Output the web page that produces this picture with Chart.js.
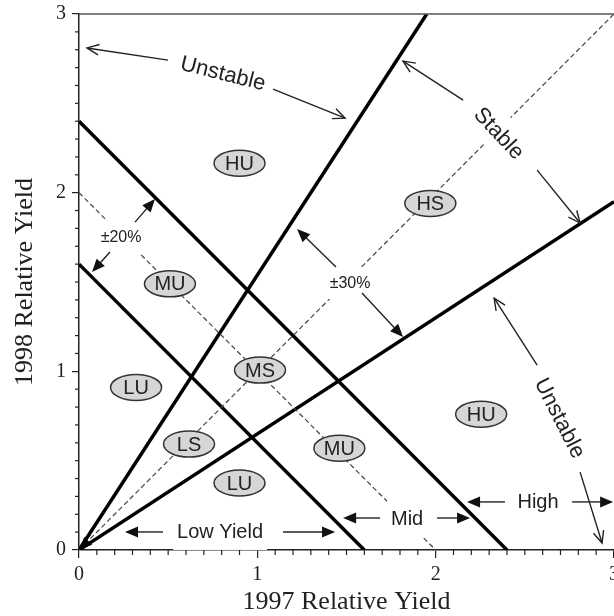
<!DOCTYPE html>
<html>
<head>
<meta charset="utf-8">
<script src="https://cdn.jsdelivr.net/npm/chart.js@4"></script>
<style>
  html, body { margin: 0; padding: 0; background: #fff; }
  #wrap { width: 614px; height: 616px; }
</style>
</head>
<body>
<div id="wrap"><canvas id="yieldChart"></canvas></div>
<script>
// boundary lines, endpoints in relative-yield units
const upperStable = [{ x: 0, y: 0 }, { x: 1.95, y: 3 }];
const lowerStable = [{ x: 0, y: 0 }, { x: 3, y: 1.95 }];
const oneToOne = [{ x: 0, y: 0 }, { x: 3, y: 3 }];
const highBound = [{ x: 0, y: 2.4 }, { x: 2.4, y: 0 }];
const lowBound = [{ x: 0, y: 1.6 }, { x: 1.6, y: 0 }];
const midLine = [{ x: 0, y: 2 }, { x: 2, y: 0 }];

// zone labels
const zoneNames = ["HU", "HS", "MU", "LU", "MS", "LS", "LU", "MU", "HU"];
const zoneX = [0.9, 1.97, 0.51, 0.32, 1.015, 0.617, 0.9, 1.46, 2.255];
const zoneY = [2.165, 1.94, 1.49, 0.91, 1.007, 0.593, 0.375, 0.57, 0.76];

// text annotations: text, x, y, angle, size
const noteText = ["Unstable", "Stable", "Unstable", "±20%", "±30%", "Low Yield", "Mid", "High"];
const noteX = [0.808, 2.356, 2.698, 0.236, 1.52, 0.791, 1.84, 2.574];
const noteY = [2.669, 2.333, 0.739, 1.752, 1.494, 0.101, 0.179, 0.269];
const noteAngle = [14, 47, 63, 0, 0, 0, 0, 0];
const noteSize = [22, 22, 22, 16, 16, 20, 20, 20];

// arrows: from -> to, "open" chevron or "solid" head
const arrowFrom = [
  [0.499, 2.742], [1.088, 2.58], [2.154, 2.518], [2.569, 2.126], [2.569, 1.035], [2.81, 0.436],
  [0.314, 1.835], [0.174, 1.668], [1.441, 1.584], [1.587, 1.438],
  [0.471, 0.101], [1.144, 0.101], [1.688, 0.179], [2.008, 0.179], [2.389, 0.269], [2.765, 0.269]
];
const arrowTo = [
  [0.045, 2.81], [1.492, 2.417], [1.817, 2.736], [2.81, 1.83], [2.328, 1.41], [2.933, 0.039],
  [0.426, 1.964], [0.073, 1.556], [1.223, 1.796], [1.817, 1.192],
  [0.258, 0.101], [1.436, 0.101], [1.481, 0.179], [2.193, 0.179], [2.176, 0.269], [2.995, 0.269]
];
const arrowHead = [
  "open", "open", "open", "open", "open", "open",
  "solid", "solid", "solid", "solid",
  "solid", "solid", "solid", "solid", "solid", "solid"
];

const serif = "'Liberation Serif', 'DejaVu Serif', serif";
const sans = "'Liberation Sans', Arial, sans-serif";

function headAt(ctx, x1, y1, x2, y2, type) {
  const a = Math.atan2(y2 - y1, x2 - x1);
  if (type === "open") {
    const len = 13, spread = 0.42;
    ctx.beginPath();
    ctx.moveTo(x2 - len * Math.cos(a - spread), y2 - len * Math.sin(a - spread));
    ctx.lineTo(x2, y2);
    ctx.lineTo(x2 - len * Math.cos(a + spread), y2 - len * Math.sin(a + spread));
    ctx.stroke();
  } else {
    const len = 13, half = 5.5;
    const bx = x2 - len * Math.cos(a), by = y2 - len * Math.sin(a);
    ctx.beginPath();
    ctx.moveTo(x2, y2);
    ctx.lineTo(bx + half * Math.sin(a), by - half * Math.cos(a));
    ctx.lineTo(bx - half * Math.sin(a), by + half * Math.cos(a));
    ctx.closePath();
    ctx.fill();
  }
}

const annotations = {
  id: "annotations",
  afterDraw(chart) {
    const ctx = chart.ctx;
    const xs = chart.scales.x, ys = chart.scales.y;
    const area = chart.chartArea;

    // top frame line
    ctx.save();
    ctx.strokeStyle = "#555";
    ctx.lineWidth = 1.5;
    ctx.beginPath();
    ctx.moveTo(area.left, area.top);
    ctx.lineTo(area.right, area.top);
    ctx.stroke();

    // minor ticks
    ctx.strokeStyle = "#222";
    ctx.lineWidth = 1.2;
    for (let i = 1; i < 30; i++) {
      if (i % 10 === 0) continue;
      const px = xs.getPixelForValue(i / 10);
      ctx.beginPath();
      ctx.moveTo(px, area.bottom);
      ctx.lineTo(px, area.bottom + 5);
      ctx.stroke();
      const py = ys.getPixelForValue(i / 10);
      ctx.beginPath();
      ctx.moveTo(area.left, py);
      ctx.lineTo(area.left - 4, py);
      ctx.stroke();
    }

    // small arrowhead at origin
    ctx.fillStyle = "#000";
    const ox = xs.getPixelForValue(0), oy = ys.getPixelForValue(0);
    headAt(ctx, ox + 20, oy - 20, ox, oy, "solid");

    // text notes with white backing
    ctx.textAlign = "center";
    ctx.textBaseline = "middle";
    noteText.forEach((t, i) => {
      ctx.save();
      ctx.translate(xs.getPixelForValue(noteX[i]), ys.getPixelForValue(noteY[i]));
      ctx.rotate(noteAngle[i] * Math.PI / 180);
      ctx.font = noteSize[i] + "px " + sans;
      const w = ctx.measureText(t).width;
      ctx.fillStyle = "#fff";
      ctx.fillRect(-w / 2 - 4, -noteSize[i] / 2 - 8, w + 8, noteSize[i] + 16);
      ctx.fillStyle = "#222";
      ctx.fillText(t, 0, 1);
      ctx.restore();
    });

    // arrows
    ctx.strokeStyle = "#222";
    ctx.fillStyle = "#111";
    ctx.lineWidth = 1.4;
    arrowFrom.forEach((f, i) => {
      const x1 = xs.getPixelForValue(f[0]), y1 = ys.getPixelForValue(f[1]);
      const x2 = xs.getPixelForValue(arrowTo[i][0]), y2 = ys.getPixelForValue(arrowTo[i][1]);
      ctx.beginPath();
      ctx.moveTo(x1, y1);
      if (arrowHead[i] === "solid") {
        const a = Math.atan2(y2 - y1, x2 - x1);
        ctx.lineTo(x2 - 10 * Math.cos(a), y2 - 10 * Math.sin(a));
      } else {
        ctx.lineTo(x2, y2);
      }
      ctx.stroke();
      headAt(ctx, x1, y1, x2, y2, arrowHead[i]);
    });

    // zone ellipses
    ctx.font = "20px " + sans;
    zoneNames.forEach((n, i) => {
      const cx = xs.getPixelForValue(zoneX[i]), cy = ys.getPixelForValue(zoneY[i]);
      ctx.beginPath();
      ctx.ellipse(cx, cy, 25.5, 13, 0, 0, Math.PI * 2);
      ctx.fillStyle = "#d6d6d6";
      ctx.fill();
      ctx.strokeStyle = "#333";
      ctx.lineWidth = 1.5;
      ctx.stroke();
      ctx.fillStyle = "#222";
      ctx.fillText(n, cx, cy + 1);
    });
    ctx.restore();
  }
};

function lineSet(points, width, dash, color) {
  return {
    data: points,
    showLine: true,
    borderColor: color,
    borderWidth: width,
    borderDash: dash,
    pointRadius: 0,
    fill: false
  };
}

document.addEventListener("DOMContentLoaded", function () {
  const ctx = document.getElementById("yieldChart").getContext("2d");

  new Chart(ctx, {
    type: "scatter",
    data: {
      datasets: [
        lineSet(oneToOne, 1.2, [5, 3], "#444"),
        lineSet(midLine, 1.2, [5, 3], "#444"),
        lineSet(upperStable, 3.5, [], "#000"),
        lineSet(lowerStable, 3.5, [], "#000"),
        lineSet(highBound, 3.5, [], "#000"),
        lineSet(lowBound, 3.5, [], "#000")
      ]
    },
    plugins: [annotations],
    options: {
      responsive: true,
      maintainAspectRatio: false,
      animation: false,
      layout: { padding: { top: 14, right: 0, left: 0, bottom: 0 } },
      plugins: {
        legend: { display: false },
        tooltip: { enabled: false }
      },
      scales: {
        x: {
          type: "linear",
          min: 0,
          max: 3,
          ticks: {
            stepSize: 1,
            maxRotation: 0,
            padding: 5,
            color: "#222",
            font: { family: serif, size: 20 }
          },
          grid: { drawOnChartArea: false, tickLength: 8, color: "#222", lineWidth: 1.2 },
          border: { color: "#222", width: 1.5 },
          title: {
            display: true,
            text: "1997 Relative Yield",
            color: "#222",
            font: { family: serif, size: 26, lineHeight: 1 },
            padding: { top: 0, bottom: 1 }
          },
          afterFit: (s) => {
            s.height = 66;
            s.paddingLeft = 0;
            s.paddingRight = 0;
          }
        },
        y: {
          type: "linear",
          min: 0,
          max: 3,
          ticks: {
            stepSize: 1,
            padding: 6,
            color: "#222",
            font: { family: serif, size: 20 }
          },
          grid: { drawOnChartArea: false, tickLength: 7, color: "#222", lineWidth: 1.2 },
          border: { color: "#222", width: 1.5 },
          title: {
            display: true,
            text: "1998 Relative Yield",
            color: "#222",
            font: { family: serif, size: 26, lineHeight: 1 },
            padding: { top: 12, bottom: 0 }
          },
          afterFit: (s) => {
            s.width = 79;
            s.paddingTop = 0;
            s.paddingBottom = 0;
          }
        }
      }
    }
  });
});
</script>
</body>
</html>
